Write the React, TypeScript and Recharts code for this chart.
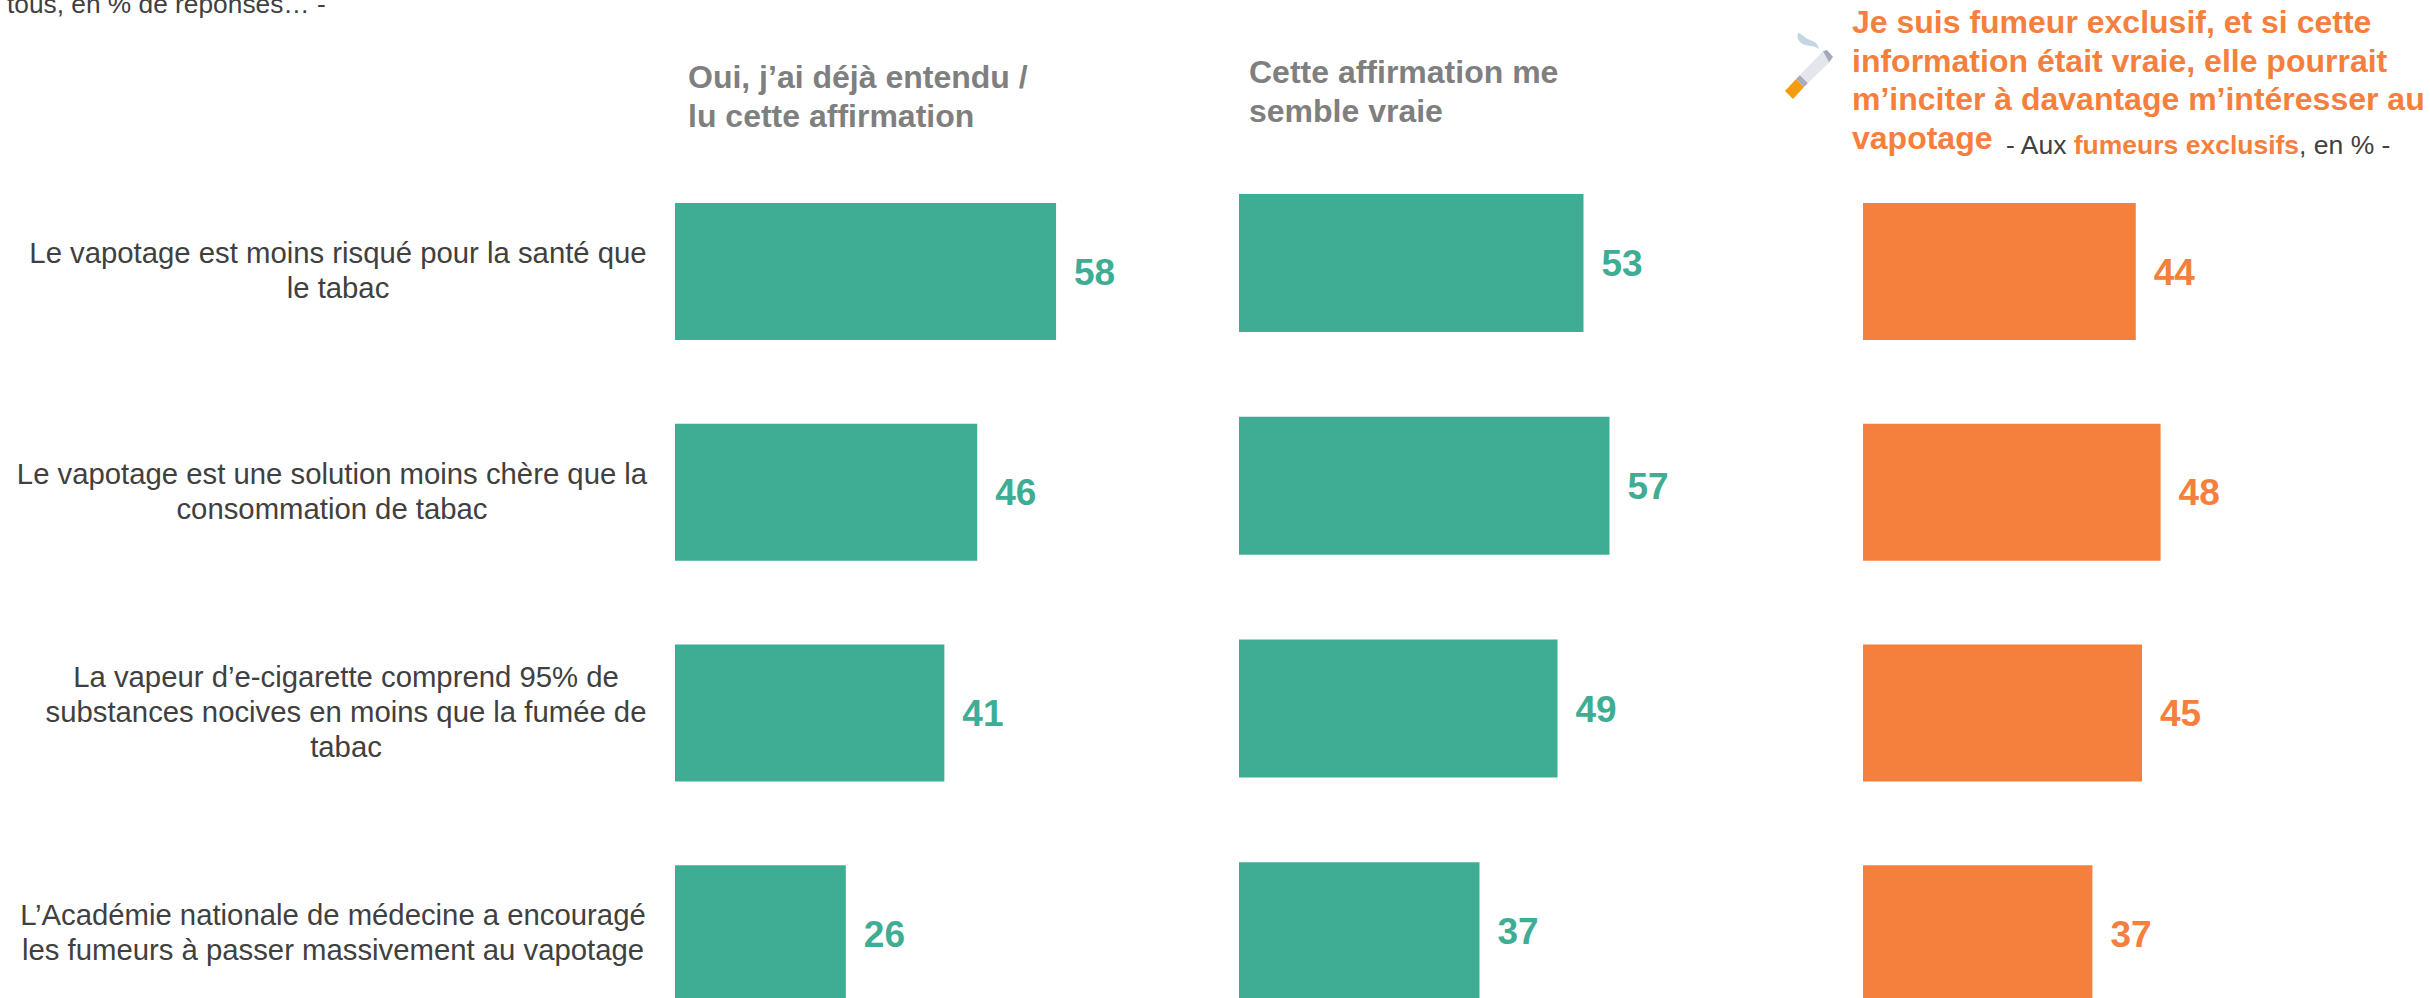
import React from 'react';
import { BarChart, Bar, XAxis, YAxis, LabelList } from 'recharts';

const categories = [
  'Le vapotage est moins risqué pour la santé que|le tabac',
  'Le vapotage est une solution moins chère que la|consommation de tabac',
  'La vapeur d’e-cigarette comprend 95% de|substances nocives en moins que la fumée de|tabac',
  'L’Académie nationale de médecine a encouragé|les fumeurs à passer massivement au vapotage',
];
const heardValues = [58, 46, 41, 26];
const trueValues = [53, 57, 49, 37];
const smokerValues = [44, 48, 45, 37];

const GREEN = '#3EAD94';
const ORANGE = '#F5803E';
const FONT = '"Liberation Sans", Arial, sans-serif';
const tickCentres = [338, 332, 346, 333];

const table = (values: number[]) => categories.map((c, i) => ({ c, v: values[i] }));

const CategoryTick = (props: any) => {
  const { y, payload, index } = props;
  const lines: string[] = String(payload.value).split('|');
  const lh = 35;
  const start = y - 1 - ((lines.length - 1) * lh) / 2;
  return (
    <g>
      {lines.map((t, i) => (
        <text key={i} x={tickCentres[index]} y={start + i * lh} dy="0.35em" textAnchor="middle" fontSize={29.3} fontFamily={FONT} fill="#404040">
          {t}
        </text>
      ))}
    </g>
  );
};

type ColumnProps = {
  left: number; top: number; width: number; height: number; axisWidth: number; barSize: number;
  values: number[]; max: number; color: string; showCategories?: boolean;
};

const Column = ({ left, top, width, height, axisWidth, barSize, values, max, color, showCategories }: ColumnProps) => (
  <div style={{ position: 'absolute', left, top }}>
    <BarChart width={width} height={height} data={table(values)} layout="vertical" margin={{ top: 0, right: 0, bottom: 0, left: 0 }}>
      <XAxis type="number" domain={[0, max]} hide />
      <YAxis
        type="category"
        dataKey="c"
        width={axisWidth}
        hide={!showCategories}
        axisLine={false}
        tickLine={false}
        interval={0}
        tick={showCategories ? <CategoryTick /> : false}
      />
      <Bar dataKey="v" fill={color} barSize={barSize} isAnimationActive={false}>
        <LabelList dataKey="v" position="right" offset={18} fill={color} fontSize={37} fontWeight={700} fontFamily={FONT} />
      </Bar>
    </BarChart>
  </div>
);

const abs = (left: number, top: number, extra: React.CSSProperties = {}): React.CSSProperties => ({
  position: 'absolute', left, top, fontFamily: FONT, whiteSpace: 'nowrap', ...extra,
});

export default function App() {
  return (
    <div style={{ position: 'fixed', left: 0, top: 0, width: 2430, height: 998, overflow: 'hidden', background: '#fff' }}>
      <Column left={0} top={161} width={1332} height={883} axisWidth={675} barSize={137} values={heardValues} max={100} color={GREEN} showCategories />
      <Column left={1239} top={152} width={650} height={891} axisWidth={0} barSize={138} values={trueValues} max={100} color={GREEN} />
      <Column left={1863} top={161} width={496} height={883} axisWidth={0} barSize={137} values={smokerValues} max={80} color={ORANGE} />

      <div style={abs(7, -11, { fontSize: 26.3, lineHeight: '30px', color: '#404040' })}>tous, en % de réponses… -</div>

      <div style={abs(688, 58, { fontSize: 32, lineHeight: '39px', fontWeight: 700, color: '#7F7F7F' })}>
        Oui, j’ai déjà entendu /<br />lu cette affirmation
      </div>
      <div style={abs(1249, 53, { fontSize: 32, lineHeight: '39px', fontWeight: 700, color: '#7F7F7F' })}>
        Cette affirmation me<br />semble vraie
      </div>
      <div style={abs(1852, 3, { fontSize: 32, lineHeight: '38.5px', fontWeight: 700, color: ORANGE })}>
        Je suis fumeur exclusif, et si cette<br />information était vraie, elle pourrait<br />m’inciter à davantage m’intéresser au<br />vapotage
      </div>
      <div style={abs(2006, 130, { fontSize: 26.5, lineHeight: '30px', color: '#404040' })}>
        - Aux <span style={{ color: ORANGE, fontWeight: 700 }}>fumeurs exclusifs</span>, en % -
      </div>

      <svg style={{ position: 'absolute', left: 1760, top: 10 }} width={100} height={100} viewBox="0 0 100 100">
        <polygon points="25,81 36,69 44,77 33,89" fill="#F39C12" />
        <polygon points="36,69 40,65 48,73 44,77" fill="#A9ADB8" />
        <polygon points="40,65 63,41 72,50 48,73" fill="#E3E7EC" />
        <polygon points="63,41 67,40 73,47 69,52" fill="#A5A8B8" />
        <path d="M38,23 C37,22 43,25 46,28 C50,31 57,30 59,39 C55,36 50,36 45,35 C40,33 36,29 38,23 Z" fill="#C5D6E3" />
      </svg>
    </div>
  );
}
